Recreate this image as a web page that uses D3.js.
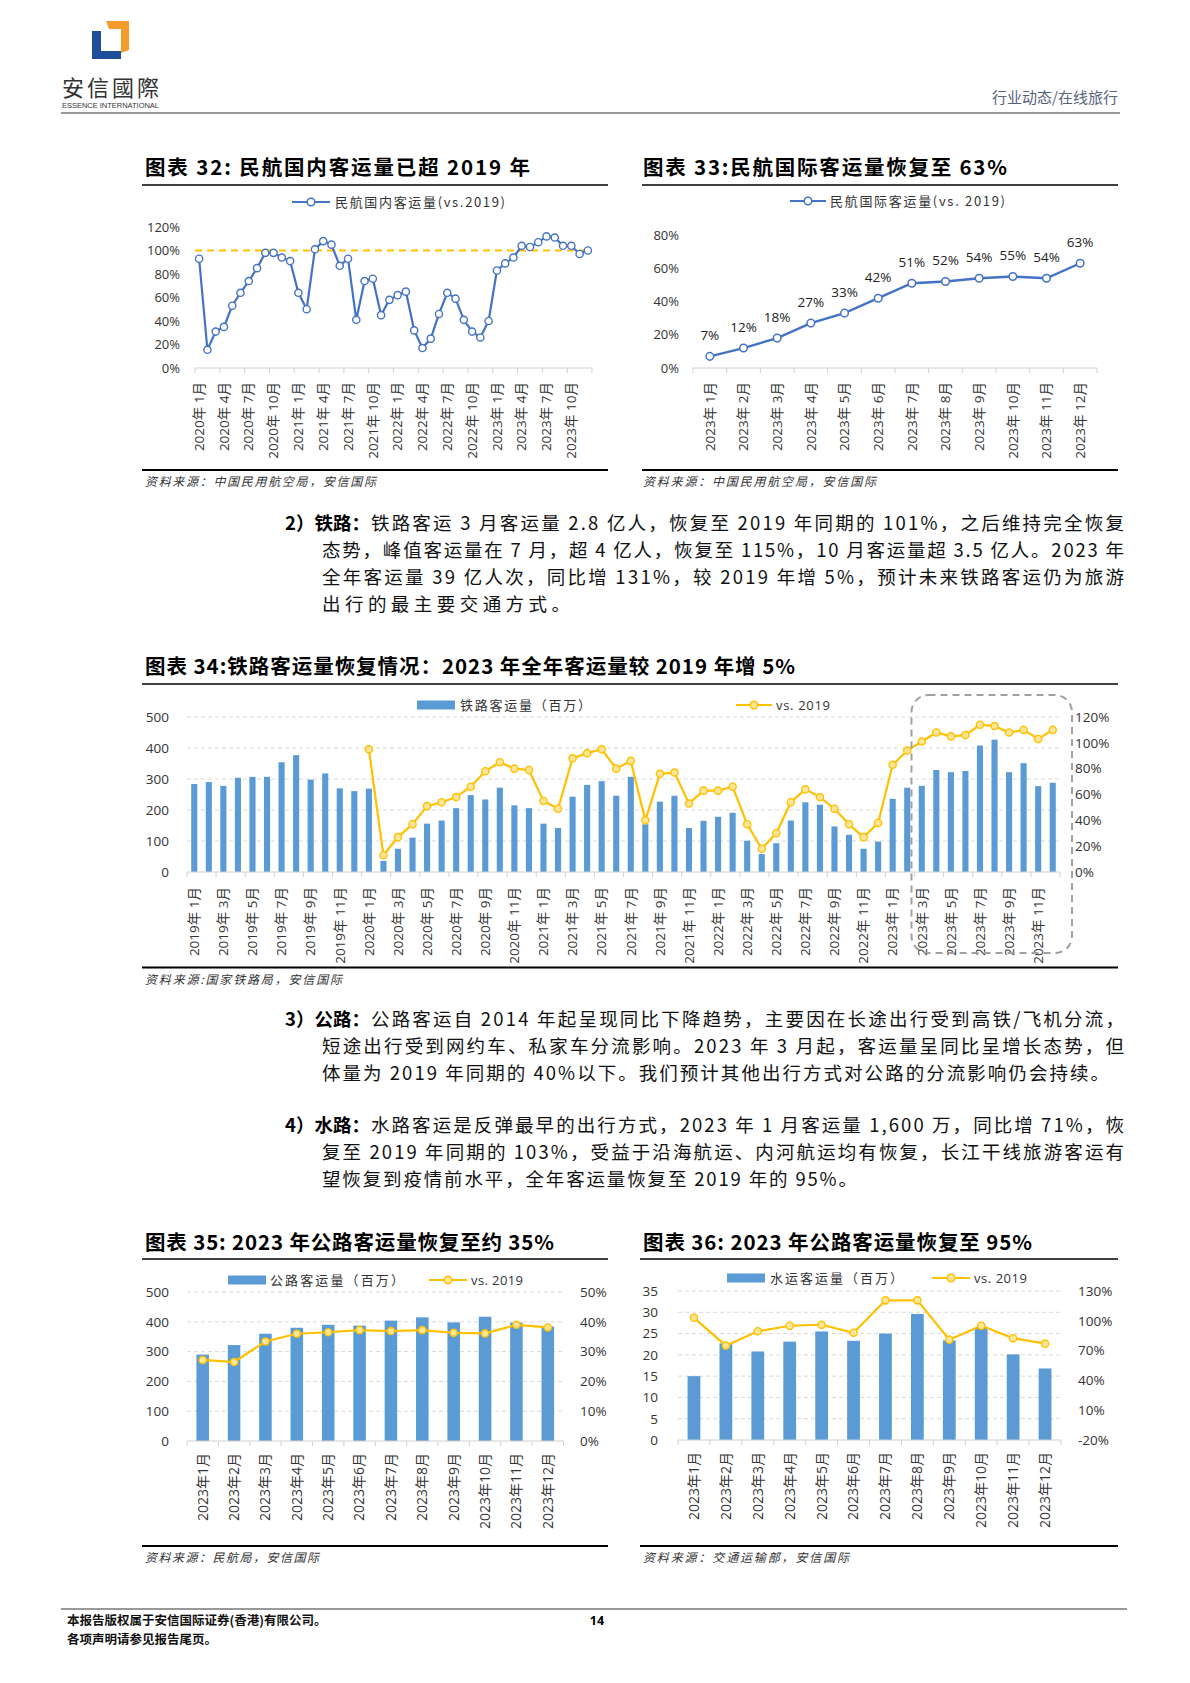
<!DOCTYPE html>
<html>
<head>
<meta charset="utf-8">
<script src="https://cdn.jsdelivr.net/npm/d3@7"></script>
<style>
  body { margin: 0; background: #fff; }
</style>
</head>
<body>
<svg id="page" width="1190" height="1683"></svg>
<script>
// ---------- data ----------
// 图表32: 民航国内客运量 (vs.2019, %), 2020-01 .. 2023-12
const domesticPct = [93, 15.5, 31, 35, 53, 64, 74, 85, 98, 98, 94, 91,
  64, 50, 101, 108, 105, 87, 93, 41, 74, 76, 45, 58,
  62, 65, 32, 17, 25, 46, 64, 59, 41, 31, 26, 40,
  83, 89, 94, 104, 103, 107, 112, 111, 104, 104, 97, 100];
const domesticTicks = [0, 20, 40, 60, 80, 100, 120];

// 图表33: 民航国际客运量 (vs.2019, %), 2023-01 .. 2023-12
const intlPct = [7, 12, 18, 27, 33, 42, 51, 52, 54, 55, 54, 63];
const intlTicks = [0, 20, 40, 60, 80];

// 图表34: 铁路客运量 (百万) 与 vs.2019 (%), 2019-01 .. 2023-12
const railVol = [284, 290, 278, 304, 307, 307, 354, 377, 298, 318, 270, 261,
  269, 36, 75, 111, 156, 166, 206, 248, 234, 272, 215, 206,
  156, 142, 243, 281, 293, 246, 307, 154, 227, 246, 142, 165,
  178, 191, 101, 58, 93, 166, 225, 217, 147, 120, 75, 98,
  236, 272, 278, 329, 322, 326, 408, 427, 322, 351, 277, 288];
const railPct = [null, null, null, null, null, null, null, null, null, null, null, null,
  95, 13, 27, 37, 51, 54, 58, 66, 78, 85, 80, 79,
  55, 49, 88, 92, 95, 80, 86, 40, 76, 77, 53, 63,
  63, 66, 37, 18, 30, 54, 64, 58, 49, 37, 27, 38,
  83, 94, 101, 108, 105, 106, 114, 113, 108, 110, 103, 110];
const railVolTicks = [0, 100, 200, 300, 400, 500];
const railPctTicks = [0, 20, 40, 60, 80, 100, 120];

// 图表35: 公路客运量 (百万) 与 vs.2019 (%), 2023
const roadVol = [290, 322, 360, 380, 390, 387, 404, 415, 398, 417, 397, 384];
const roadPct = [27.2, 26.5, 33.4, 36, 36.5, 37.2, 36.9, 37.2, 36.3, 36.1, 39, 38.1];
const roadVolTicks = [0, 100, 200, 300, 400, 500];
const roadPctTicks = [0, 10, 20, 30, 40, 50];

// 图表36: 水运客运量 (百万) 与 vs.2019 (%), 2023
const waterVol = [15.0, 22.7, 20.8, 23.1, 25.5, 23.3, 25.0, 29.6, 23.4, 26.3, 20.1, 16.8];
const waterPct = [103, 75, 89.5, 95, 96, 88, 120.6, 120.6, 81, 95, 82.5, 77];
const waterVolTicks = [0, 5, 10, 15, 20, 25, 30, 35];
const waterPctTicks = [-20, 10, 40, 70, 100, 130];

// month category names
function monthSeq(year, n, sep) {
  const out = [];
  for (let i = 0; i < n; i++) out.push((year + Math.floor(i / 12)) + "年" + sep + (i % 12 + 1) + "月");
  return out;
}
const domesticMonths = monthSeq(2020, 48, " ");
const intlMonths = monthSeq(2023, 12, " ");
const railMonths = monthSeq(2019, 60, " ");
const months2023 = monthSeq(2023, 12, "");

// body paragraphs
const para2 = ["铁路客运 3 月客运量 2.8 亿人，恢复至 2019 年同期的 101%，之后维持完全恢复",
  "态势，峰值客运量在 7 月，超 4 亿人，恢复至 115%，10 月客运量超 3.5 亿人。2023 年",
  "全年客运量 39 亿人次，同比增 131%，较 2019 年增 5%，预计未来铁路客运仍为旅游",
  "出行的最主要交通方式。"];
const para3 = ["公路客运自 2014 年起呈现同比下降趋势，主要因在长途出行受到高铁/飞机分流，",
  "短途出行受到网约车、私家车分流影响。2023 年 3 月起，客运量呈同比呈增长态势，但",
  "体量为 2019 年同期的 40%以下。我们预计其他出行方式对公路的分流影响仍会持续。"];
const para4 = ["水路客运是反弹最早的出行方式，2023 年 1 月客运量 1,600 万，同比增 71%，恢",
  "复至 2019 年同期的 103%，受益于沿海航运、内河航运均有恢复，长江干线旅游客运有",
  "望恢复到疫情前水平，全年客运量恢复至 2019 年的 95%。"];

// ---------- helpers ----------
const svg = d3.select("#page");
svg.append("rect").attr("width", 1190).attr("height", 1683).attr("fill", "#fff");

const CJK = '"Noto Sans CJK SC", sans-serif';
const NUM = '"Open Sans", "Noto Sans CJK SC", sans-serif';
const BLUE = "#4472C4", BAR = "#5B9BD5", GOLD = "#FFC000";

function txt(g, x, y, s, o = {}) {
  const t = g.append("text").attr("x", x).attr("y", y).attr("dy", "0.35em").text(s)
    .style("font-family", o.font || CJK).style("font-size", (o.size || 12) + "px")
    .attr("fill", o.fill || "#000");
  if (o.weight) t.style("font-weight", o.weight);
  if (o.anchor) t.attr("text-anchor", o.anchor);
  if (o.italic) t.style("font-style", "italic");
  if (o.len) t.attr("textLength", o.len).attr("lengthAdjust", "spacing");
  return t;
}

function hline(x1, x2, y, color, w) {
  svg.append("line").attr("x1", x1).attr("x2", x2).attr("y1", y).attr("y2", y)
    .attr("stroke", color).attr("stroke-width", w);
}

function paragraph(lines, prefix, yTop, ends) {
  lines.forEach((s, i) => {
    const y = yTop + i * 27;
    let x0 = 322;
    if (i === 0) {
      const p = txt(svg, 285, y, prefix, { size: 18.5, weight: 700 });
      x0 = 285 + p.node().getComputedTextLength() + 1;
    }
    txt(svg, x0, y, s, { size: 18.5, len: ends[i] - x0, fill: "#111" });
  });
}

function styleTicks(sel, size) {
  sel.selectAll("text").style("font-family", NUM).style("font-size", size + "px").attr("fill", "#333");
}

function rotatedLabels(g, x, y0, values, cats, off, size) {
  const ax = g.append("g").attr("transform", `translate(0,${y0})`)
    .call(d3.axisBottom(x).tickValues(values).tickFormat(i => cats[i]).tickSize(0));
  ax.select(".domain").remove();
  ax.selectAll("text").attr("transform", "rotate(-90)").attr("x", -off).attr("y", 0)
    .attr("dy", "0.35em").style("text-anchor", "end");
  styleTicks(ax, size);
}

function legendLine(g, x1, x2, y, color, fill) {
  g.append("line").attr("x1", x1).attr("x2", x2).attr("y1", y).attr("y2", y)
    .attr("stroke", color).attr("stroke-width", 2);
  g.append("circle").attr("cx", (x1 + x2) / 2).attr("cy", y).attr("r", 3.8)
    .attr("fill", fill).attr("stroke", color).attr("stroke-width", 1.5);
}

// ---------- header ----------
svg.append("polygon").attr("points", "92,31 101,31 101,51 121,51 121,59 92,59").attr("fill", "#1F4E9A");
svg.append("polygon").attr("points", "106,21 129,21 129,50 121,53 121,29 109,29").attr("fill", "#F39C2B");
txt(svg, 62, 88, "安信國際", { size: 22, len: 97, fill: "#333", font: '"Noto Sans CJK TC", sans-serif' });
txt(svg, 62, 105, "ESSENCE INTERNATIONAL", { size: 7.5, len: 97, fill: "#333", font: '"Liberation Sans", sans-serif' });
txt(svg, 1118, 98, "行业动态/在线旅行", { size: 15, anchor: "end", fill: "#56627a" });
hline(61, 1120, 113, "#777", 1.6);

// ---------- chart 32 ----------
(function () {
  const g = svg.append("g");
  txt(g, 145, 168, "图表 32: 民航国内客运量已超 2019 年", { size: 20.5, weight: 700, len: 385 });
  hline(142, 608, 185, "#000", 1.5);
  legendLine(g, 292, 330, 202, BLUE, "#fff");
  txt(g, 335, 202, "民航国内客运量(vs.2019)", { size: 13, len: 170, fill: "#333" });

  const x = d3.scaleBand().domain(d3.range(domesticPct.length)).range([195, 592]);
  const y = d3.scaleLinear().domain([0, 120]).range([368, 227]);
  const bw = x.bandwidth();

  const ay = g.append("g").attr("transform", "translate(181,0)")
    .call(d3.axisLeft(y).tickValues(domesticTicks).tickFormat(d => d + "%").tickSize(0).tickPadding(1));
  ay.select(".domain").remove();
  styleTicks(ay, 13);

  g.append("line").attr("x1", 195).attr("x2", 592).attr("y1", 368).attr("y2", 368).attr("stroke", "#d0d0d0");
  g.selectAll(".tk").data(d3.range(0, domesticPct.length + 1, 3)).enter().append("line")
    .attr("x1", i => 195 + i * x.step()).attr("x2", i => 195 + i * x.step())
    .attr("y1", 368).attr("y2", 373).attr("stroke", "#d0d0d0");
  rotatedLabels(g, x, 368, d3.range(0, domesticPct.length, 3), domesticMonths, 14, 13.5);

  g.append("line").attr("x1", 195).attr("x2", 592).attr("y1", y(100)).attr("y2", y(100))
    .attr("stroke", GOLD).attr("stroke-width", 2).attr("stroke-dasharray", "7,5");

  const line = d3.line().x((d, i) => x(i) + bw / 2).y(d => y(d));
  g.append("path").datum(domesticPct).attr("d", line).attr("fill", "none")
    .attr("stroke", BLUE).attr("stroke-width", 2.2);
  g.selectAll(".pt").data(domesticPct).enter().append("circle")
    .attr("cx", (d, i) => x(i) + bw / 2).attr("cy", d => y(d)).attr("r", 3.6)
    .attr("fill", "#fff").attr("stroke", BLUE).attr("stroke-width", 1.4);

  hline(142, 608, 470, "#000", 2);
  txt(g, 145, 482, "资料来源：中国民用航空局，安信国际", { size: 12, italic: true, len: 231, fill: "#333" });
})();

// ---------- chart 33 ----------
(function () {
  const g = svg.append("g");
  txt(g, 643, 168, "图表 33:民航国际客运量恢复至 63%", { size: 20.5, weight: 700, len: 364 });
  hline(642, 1118, 185, "#000", 1.5);
  legendLine(g, 790, 826, 201, BLUE, "#fff");
  txt(g, 830, 201, "民航国际客运量(vs. 2019)", { size: 13, len: 175, fill: "#333" });

  const x = d3.scaleBand().domain(d3.range(intlPct.length)).range([693, 1097]);
  const y = d3.scaleLinear().domain([0, 80]).range([368, 235]);
  const bw = x.bandwidth();

  const ay = g.append("g").attr("transform", "translate(680,0)")
    .call(d3.axisLeft(y).tickValues(intlTicks).tickFormat(d => d + "%").tickSize(0).tickPadding(1));
  ay.select(".domain").remove();
  styleTicks(ay, 13);

  g.append("line").attr("x1", 693).attr("x2", 1097).attr("y1", 368).attr("y2", 368).attr("stroke", "#d0d0d0");
  g.selectAll(".tk").data(d3.range(0, intlPct.length + 1)).enter().append("line")
    .attr("x1", i => 693 + i * x.step()).attr("x2", i => 693 + i * x.step())
    .attr("y1", 368).attr("y2", 373).attr("stroke", "#d0d0d0");
  rotatedLabels(g, x, 368, d3.range(intlPct.length), intlMonths, 14, 13.5);

  const line = d3.line().x((d, i) => x(i) + bw / 2).y(d => y(d));
  g.append("path").datum(intlPct).attr("d", line).attr("fill", "none")
    .attr("stroke", BLUE).attr("stroke-width", 2.4);
  g.selectAll(".pt").data(intlPct).enter().append("circle")
    .attr("cx", (d, i) => x(i) + bw / 2).attr("cy", d => y(d)).attr("r", 3.8)
    .attr("fill", "#fff").attr("stroke", BLUE).attr("stroke-width", 1.5);
  g.selectAll(".lb").data(intlPct).enter().append("text")
    .attr("x", (d, i) => x(i) + bw / 2).attr("y", d => y(d) - 21).attr("dy", "0.35em")
    .attr("text-anchor", "middle").text(d => d + "%")
    .style("font-family", NUM).style("font-size", "13.5px").attr("fill", "#222");

  hline(642, 1118, 470, "#000", 2);
  txt(g, 643, 482, "资料来源：中国民用航空局，安信国际", { size: 12, italic: true, len: 233, fill: "#333" });
})();

// ---------- paragraph 2 ----------
paragraph(para2, "2）铁路：", 523.5, [1124, 1124, 1124, 570]);

// ---------- combo charts ----------
function comboChart(c) {
  const g = svg.append("g");
  const x = d3.scaleBand().domain(d3.range(c.vol.length)).range([c.x0, c.x1]);
  const bw = x.bandwidth();
  const yL = d3.scaleLinear().domain([c.volTicks[0], c.volTicks[c.volTicks.length - 1]]).range([c.yBot, c.yTop]);
  const yR = d3.scaleLinear().domain([c.pctTicks[0], c.pctTicks[c.pctTicks.length - 1]]).range([c.yBot, c.yTop]);

  g.selectAll(".grid").data(c.volTicks.slice(1)).enter().append("line")
    .attr("x1", c.x0).attr("x2", c.x1).attr("y1", d => yL(d)).attr("y2", d => yL(d))
    .attr("stroke", "#d9d9d9").attr("stroke-dasharray", "4,3");

  const al = g.append("g").attr("transform", `translate(${c.leftX},0)`)
    .call(d3.axisLeft(yL).tickValues(c.volTicks).tickSize(0).tickPadding(0));
  al.select(".domain").remove();
  styleTicks(al, 13.5);

  const ar = g.append("g").attr("transform", `translate(${c.rightX},0)`)
    .call(d3.axisRight(yR).tickValues(c.pctTicks).tickFormat(d => d + "%").tickSize(0).tickPadding(0));
  ar.select(".domain").remove();
  styleTicks(ar, 13.5);

  g.selectAll(".bar").data(c.vol).enter().append("rect")
    .attr("x", (d, i) => x(i) + bw * (1 - c.barFrac) / 2).attr("width", bw * c.barFrac)
    .attr("y", d => yL(d)).attr("height", d => c.yBot - yL(d)).attr("fill", BAR);

  g.append("line").attr("x1", c.x0).attr("x2", c.x1).attr("y1", c.yBot).attr("y2", c.yBot).attr("stroke", "#d0d0d0");
  g.selectAll(".tk").data(d3.range(0, c.vol.length + 1, c.tickEvery)).enter().append("line")
    .attr("x1", i => c.x0 + i * x.step()).attr("x2", i => c.x0 + i * x.step())
    .attr("y1", c.yBot).attr("y2", c.yBot + 5).attr("stroke", "#d0d0d0");
  rotatedLabels(g, x, c.yBot, d3.range(0, c.vol.length, c.tickEvery), c.cats, c.labelOff, c.labelSize);

  const line = d3.line().defined(d => d != null).x((d, i) => x(i) + bw / 2).y(d => yR(d));
  g.append("path").datum(c.pct).attr("d", line).attr("fill", "none")
    .attr("stroke", GOLD).attr("stroke-width", 2.2);
  g.selectAll(".pt").data(c.pct.map((d, i) => [d, i]).filter(p => p[0] != null)).enter().append("circle")
    .attr("cx", p => x(p[1]) + bw / 2).attr("cy", p => yR(p[0])).attr("r", 3.6)
    .attr("fill", "#FFE699").attr("stroke", GOLD).attr("stroke-width", 1.4);

  // legend
  g.append("rect").attr("x", c.leg[0]).attr("y", c.legY - 4.5).attr("width", c.leg[1] - c.leg[0]).attr("height", 9).attr("fill", BAR);
  txt(g, c.leg[2], c.legY, c.barName, { size: 13, len: c.leg[3] - c.leg[2], fill: "#333" });
  legendLine(g, c.leg[4], c.leg[5], c.legY, GOLD, "#FFE699");
  txt(g, c.leg[6], c.legY, "vs. 2019", { size: 13, len: c.leg[7] - c.leg[6], fill: "#333", font: NUM });
  return { g, x };
}

// ---------- chart 34 ----------
(function () {
  txt(svg, 145, 667, "图表 34:铁路客运量恢复情况：2023 年全年客运量较 2019 年增 5%", { size: 20.5, weight: 700, len: 650 });
  hline(142, 1118, 684, "#000", 1.5);
  const r = comboChart({
    vol: railVol, pct: railPct, cats: railMonths,
    x0: 187, x1: 1060, yTop: 717, yBot: 872,
    volTicks: railVolTicks, pctTicks: railPctTicks,
    leftX: 169, rightX: 1075, barFrac: 0.42, tickEvery: 2, labelOff: 15, labelSize: 13.5,
    barName: "铁路客运量（百万）", legY: 705,
    leg: [417, 455, 460, 591, 736, 772, 776, 830]
  });
  // dashed highlight box around 2023-03 .. 2023-12
  const bx = r.x(50) - 3;
  r.g.append("rect").attr("x", bx).attr("y", 695).attr("width", 1072 - bx).attr("height", 258)
    .attr("rx", 17).attr("fill", "none").attr("stroke", "#a0a0a0").attr("stroke-width", 2)
    .attr("stroke-dasharray", "7,5");
  hline(142, 1118, 967.5, "#000", 2);
  txt(svg, 145, 980, "资料来源:国家铁路局，安信国际", { size: 12, italic: true, len: 197, fill: "#333" });
})();

// ---------- paragraphs 3, 4 ----------
paragraph(para3, "3）公路：", 1020, [1124, 1124, 1109]);
paragraph(para4, "4）水路：", 1125.5, [1124, 1124, 857]);

// ---------- chart 35 ----------
(function () {
  txt(svg, 145, 1243, "图表 35: 2023 年公路客运量恢复至约 35%", { size: 20.5, weight: 700, len: 409 });
  hline(142, 608, 1259, "#000", 1.5);
  comboChart({
    vol: roadVol, pct: roadPct, cats: months2023,
    x0: 187, x1: 563.5, yTop: 1292, yBot: 1441,
    volTicks: roadVolTicks, pctTicks: roadPctTicks,
    leftX: 169, rightX: 580, barFrac: 0.4, tickEvery: 1, labelOff: 12, labelSize: 14,
    barName: "公路客运量（百万）", legY: 1280,
    leg: [228, 266, 270, 404, 429, 467, 471, 523]
  });
  hline(142, 608, 1546, "#000", 2);
  txt(svg, 145, 1558, "资料来源：民航局，安信国际", { size: 12, italic: true, len: 174, fill: "#333" });
})();

// ---------- chart 36 ----------
(function () {
  txt(svg, 643, 1243, "图表 36: 2023 年公路客运量恢复至 95%", { size: 20.5, weight: 700, len: 389 });
  hline(640, 1118, 1259, "#000", 1.5);
  comboChart({
    vol: waterVol, pct: waterPct, cats: months2023,
    x0: 678, x1: 1061, yTop: 1291, yBot: 1440,
    volTicks: waterVolTicks, pctTicks: waterPctTicks,
    leftX: 658, rightX: 1078, barFrac: 0.4, tickEvery: 1, labelOff: 12, labelSize: 14,
    barName: "水运客运量（百万）", legY: 1278,
    leg: [727, 765, 770, 903, 932, 970, 974, 1027]
  });
  hline(640, 1118, 1546, "#000", 2);
  txt(svg, 643, 1558, "资料来源：交通运输部，安信国际", { size: 12, italic: true, len: 206, fill: "#333" });
})();

// ---------- footer ----------
hline(61, 1127, 1609, "#333", 1);
txt(svg, 67, 1621, "本报告版权属于安信国际证券(香港)有限公司。", { size: 12.5, weight: 700, fill: "#111" });
txt(svg, 67, 1640, "各项声明请参见报告尾页。", { size: 12.5, weight: 700, fill: "#111" });
txt(svg, 597, 1621, "14", { size: 12.5, weight: 700, anchor: "middle", font: NUM });
</script>
</body>
</html>
